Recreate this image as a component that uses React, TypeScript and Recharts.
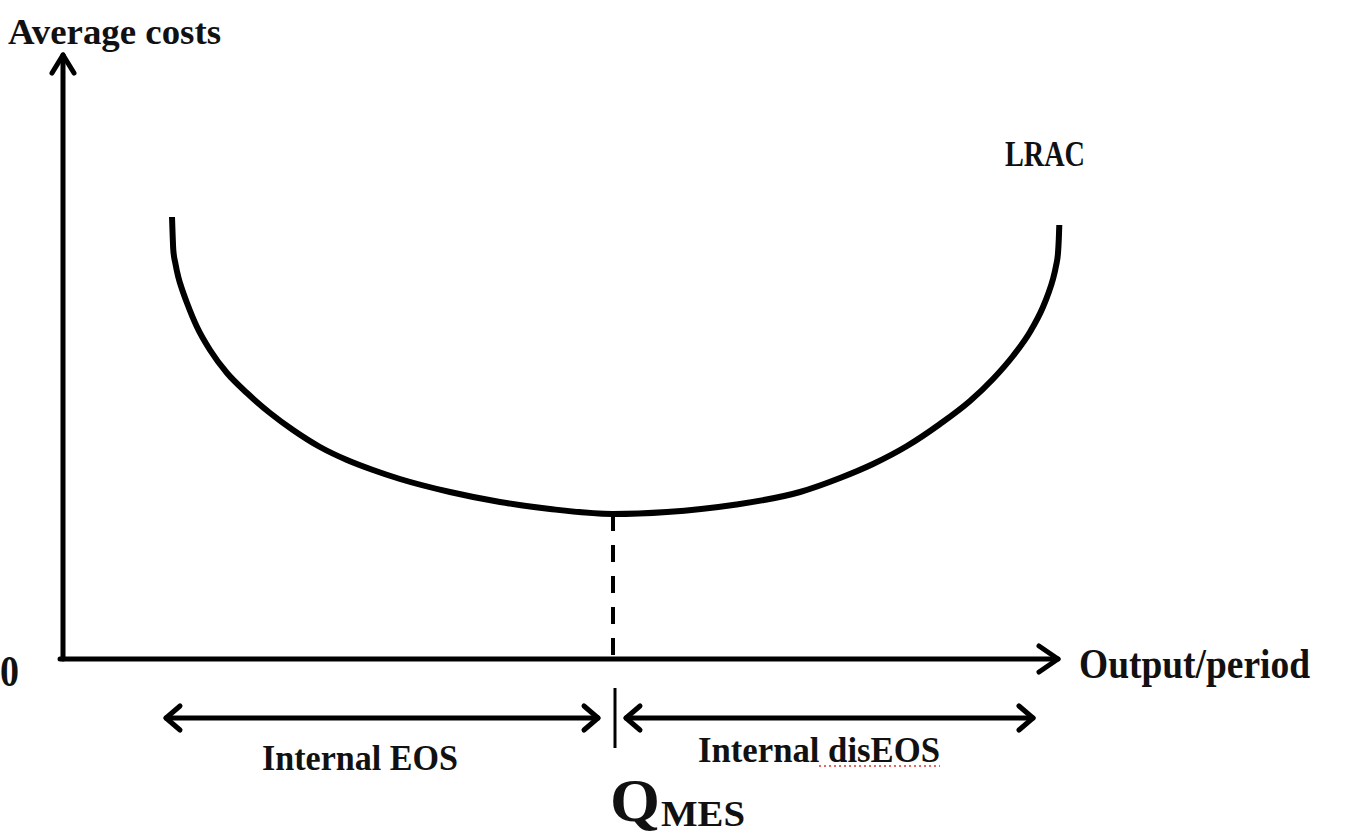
import React from 'react';
import { LineChart, Line, XAxis, YAxis, ReferenceLine } from 'recharts';

// LRAC curve (output, average cost)
const outputQty = [109, 109.6, 110.3, 112.5, 115.3, 119.3, 124, 134, 147, 164, 184, 207, 230, 257, 284, 310, 337, 387, 437, 487, 550, 604, 670, 737, 777, 810, 844, 877, 907, 930, 950, 967, 980, 985.5, 990, 993, 995, 995.8, 996.3];
const avgCost = [442, 425, 409, 395, 382, 369, 356, 332, 309, 286, 266, 246, 229, 212, 199, 189, 180, 167, 157, 150, 145, 147, 154, 167, 181, 195, 213, 235, 258, 280, 303, 327, 352, 366, 380, 393, 406, 420, 434];

// minimum efficient scale
const qMes = 550;
const minCost = 145;

// range arrows under the output axis
const rangeLevel = -59;
const eosRange = [103, 535];
const diseosRange = [563, 970];
const tickRange = [-29, -89];

const curveData = outputQty.map((q, i) => ({ q, cost: avgCost[i] }));

const W = 1346;
const H = 836;
const FONT = '"Liberation Serif", "Times New Roman", serif';

function arrowShape(both: boolean, back: number, side: number, sw: number) {
  return (p: any) => {
    const { x1, y1, x2, y2 } = p;
    const dx = x2 - x1;
    const dy = y2 - y1;
    const len = Math.sqrt(dx * dx + dy * dy) || 1;
    const ux = dx / len;
    const uy = dy / len;
    const head = (tx: number, ty: number, dir: number) => {
      const bx = tx - dir * ux * back;
      const by = ty - dir * uy * back;
      return (
        <polyline
          points={`${bx - uy * side},${by + ux * side} ${tx},${ty} ${bx + uy * side},${by - ux * side}`}
          fill="none"
          stroke="#000"
          strokeWidth={sw}
          strokeLinecap="round"
          strokeLinejoin="round"
        />
      );
    };
    return (
      <g>
        <line x1={x1} y1={y1} x2={x2} y2={y2} stroke="#000" strokeWidth={sw} strokeLinecap="round" />
        {head(x2, y2, 1)}
        {both && head(x1, y1, -1)}
      </g>
    );
  };
}

const txt = (x: number, y: number, s: string, size: number, w: number) => (
  <text
    x={x}
    y={y}
    fontFamily={FONT}
    fontWeight="bold"
    fontSize={size}
    textLength={w}
    lengthAdjust="spacingAndGlyphs"
    fill="#111"
  >
    {s}
  </text>
);

export default function App() {
  return (
    <div style={{ position: 'absolute', left: 0, top: 0, width: W, height: H, background: '#fff' }}>
      <LineChart
        width={W}
        height={H}
        data={curveData}
        margin={{ top: 59, right: 283, bottom: 177, left: 63 }}
      >
        <XAxis dataKey="q" type="number" domain={[0, 1000]} hide height={0} />
        <YAxis type="number" domain={[0, 600]} hide width={0} />
        {/* axes with arrow heads */}
        <ReferenceLine
          segment={[{ x: 0, y: 0 }, { x: 0, y: 604 }]}
          ifOverflow="visible"
          shape={arrowShape(false, 18, 11, 5)}
        />
        <ReferenceLine
          segment={[{ x: -3, y: 0 }, { x: 995, y: 0 }]}
          ifOverflow="visible"
          shape={arrowShape(false, 19, 13, 5)}
        />
        <ReferenceLine
          segment={[{ x: qMes, y: minCost }, { x: qMes, y: 0 }]}
          stroke="#000"
          strokeWidth={4}
          strokeDasharray="17 14"
          ifOverflow="visible"
        />
        <Line
          type="monotone"
          dataKey="cost"
          stroke="#000"
          strokeWidth={6}
          dot={false}
          isAnimationActive={false}
        />
        <ReferenceLine
          segment={[{ x: eosRange[0], y: rangeLevel }, { x: eosRange[1], y: rangeLevel }]}
          ifOverflow="visible"
          shape={arrowShape(true, 14, 12, 5)}
        />
        <ReferenceLine
          segment={[{ x: diseosRange[0], y: rangeLevel }, { x: diseosRange[1], y: rangeLevel }]}
          ifOverflow="visible"
          shape={arrowShape(true, 14, 12, 5)}
        />
        <ReferenceLine
          segment={[{ x: qMes + 2, y: tickRange[0] }, { x: qMes + 2, y: tickRange[1] }]}
          stroke="#000"
          strokeWidth={3}
          ifOverflow="visible"
        />
      </LineChart>
      <svg width={W} height={H} style={{ position: 'absolute', left: 0, top: 0, pointerEvents: 'none' }}>
        {txt(8, 44, 'Average costs', 36, 213)}
        {txt(1005, 166, 'LRAC', 36, 80)}
        {txt(0, 686, '0', 44, 19)}
        {txt(1079, 678, 'Output/period', 42, 231)}
        {txt(262, 770, 'Internal EOS', 36, 196)}
        {txt(698, 762, 'Internal disEOS', 36, 242)}
        <line x1={819} y1={766} x2={940} y2={766} stroke="#d33" strokeWidth={1.5} strokeDasharray="2 3" />
        {txt(610, 821, 'Q', 62, 50)}
        {txt(661, 826, 'MES', 36, 84)}
      </svg>
    </div>
  );
}
